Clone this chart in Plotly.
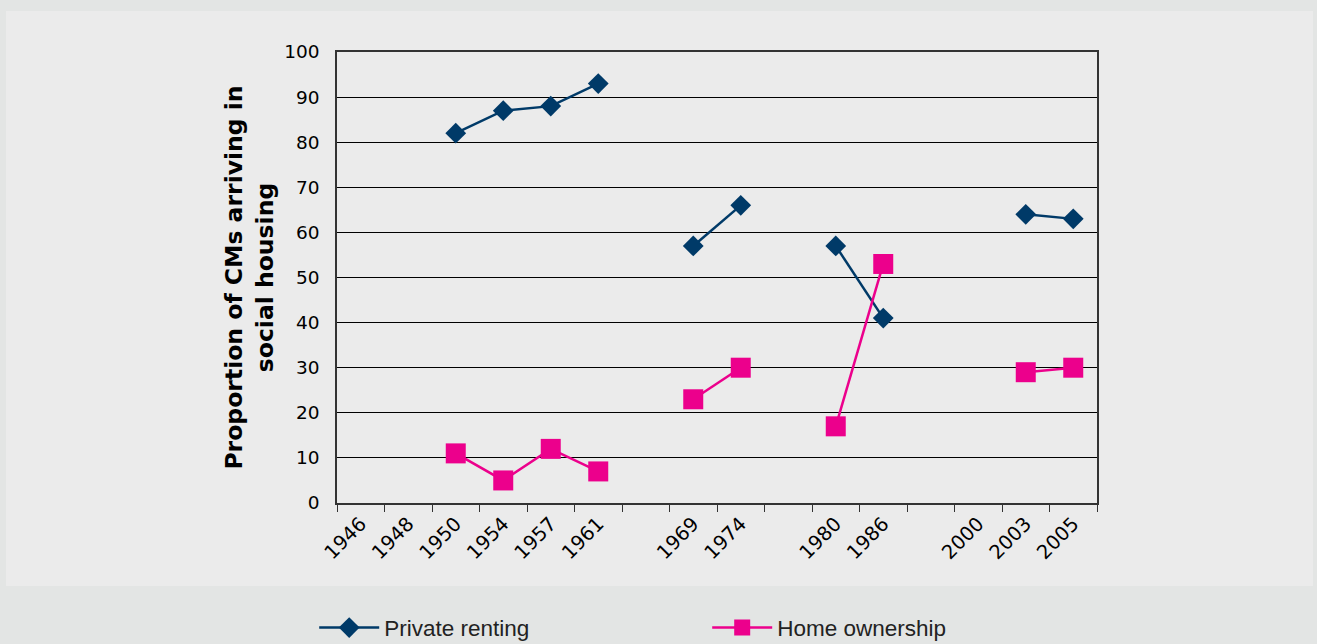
import plotly.graph_objects as go

# categories on the x axis (blank slots separate the survey groups)
categories = ["1946", "1948", "1950", "1954", "1957", "1961", " ",
              "1969", "1974", "  ", "1980", "1986", "   ",
              "2000", "2003", "2005"]

private_renting = [None, None, 82, 87, 88, 93, None,
                   57, 66, None, 57, 41, None,
                   None, 64, 63]
home_ownership = [None, None, 11, 5, 12, 7, None,
                  23, 30, None, 17, 53, None,
                  None, 29, 30]

y_ticks = [0, 10, 20, 30, 40, 50, 60, 70, 80, 90, 100]

navy = "#003a68"
magenta = "#ec008c"

fig = go.Figure()
fig.add_trace(go.Scatter(
    x=categories, y=private_renting, name="Private renting",
    mode="lines+markers", connectgaps=False,
    line=dict(color=navy, width=2.5),
    marker=dict(symbol="diamond", size=16, color=navy),
))
fig.add_trace(go.Scatter(
    x=categories, y=home_ownership, name="Home ownership",
    mode="lines+markers", connectgaps=False,
    line=dict(color=magenta, width=2.5),
    marker=dict(symbol="square", size=20, color=magenta),
))

# lighter panel behind the chart
fig.add_shape(type="rect", xref="paper", yref="paper",
              x0=(6 - 337) / 760, x1=(1313 - 337) / 760,
              y0=(503 - 586) / 451, y1=(503 - 11) / 451,
              fillcolor="#ebebeb", line=dict(width=0), layer="below")

fig.update_layout(
    width=1317, height=644,
    margin=dict(l=337, r=220, t=52, b=141, autoexpand=False),
    paper_bgcolor="#e3e5e4",
    plot_bgcolor="#ebebeb",
    font=dict(family="DejaVu Sans", size=18, color="#000000"),
    showlegend=True,
    legend=dict(
        orientation="h", x=-0.03, y=-0.277, xanchor="left", yanchor="middle",
        font=dict(family="Liberation Sans", size=22.5, color="#222222"),
        bgcolor="rgba(0,0,0,0)", entrywidth=318, entrywidthmode="pixels",
        itemwidth=60,
    ),
)

fig.update_xaxes(
    type="category", categoryorder="array", categoryarray=categories,
    tickson="boundaries", ticks="outside", ticklen=7, tickcolor="#333333",
    tickangle=-45, showgrid=False, automargin=False,
    showline=True, linecolor="#333333", linewidth=1.5, mirror=True,
    tickfont=dict(family="DejaVu Sans", size=19.5),
    range=[-0.5, len(categories) - 0.5],
)
fig.update_yaxes(
    range=[0, 100], tickvals=y_ticks, ticks="", ticklabelstandoff=12,
    showgrid=True, gridcolor="#000000", gridwidth=1, automargin=False,
    showline=True, linecolor="#333333", linewidth=1.5, mirror=True,
    zeroline=False,
    tickfont=dict(family="DejaVu Sans", size=18.5),
    title=dict(text="Proportion of CMs arriving in<br>social housing",
               font=dict(family="DejaVu Sans", size=23.5, weight="bold"),
               standoff=4),
)

fig.write_html("out.html", config={"displayModeBar": False},
               post_script="document.body.style.margin='0px';")
